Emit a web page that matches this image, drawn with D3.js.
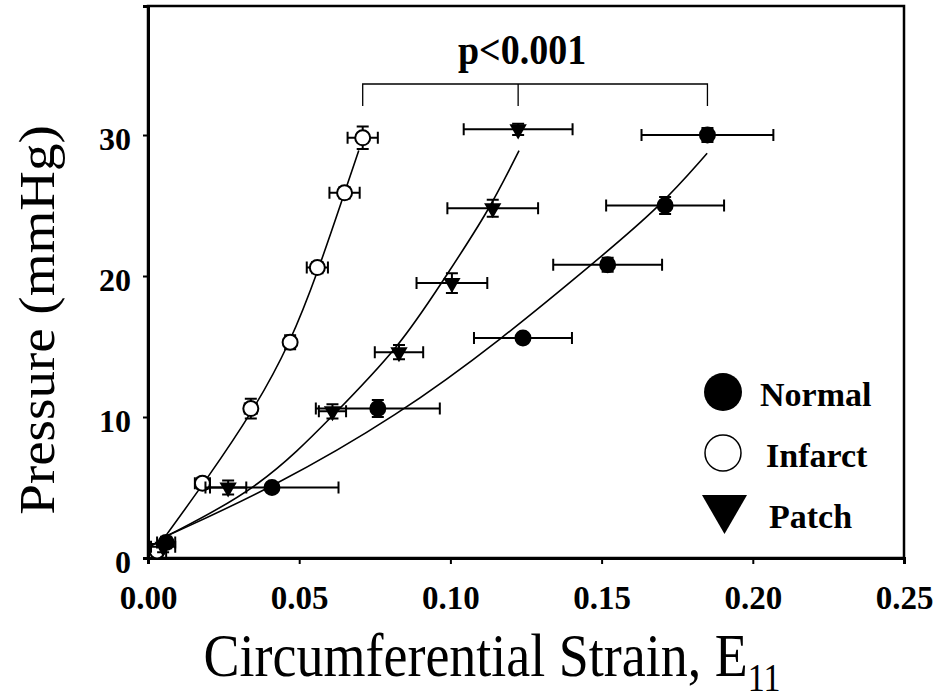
<!DOCTYPE html>
<html>
<head>
<meta charset="utf-8">
<script src="https://cdn.jsdelivr.net/npm/d3@7"></script>
<style>
    body { margin: 0; background: #fff; }
    svg { display: block; }
    .serif { font-family: "Liberation Serif", "Times New Roman", serif; }
</style>
</head>
<body>
<div id="chart"></div>
<script>
// Tick values
const xTicks = [0, 0.05, 0.10, 0.15, 0.20, 0.25];
const yTicks = [0, 10, 20, 30];

// Normal (filled circles)
const normalStrain = [0.006, 0.041, 0.076, 0.124, 0.152, 0.171, 0.185];
const normalPressure = [1.1, 5.0, 10.6, 15.6, 20.8, 25.0, 30.0];
const normalStrainErr = [0.003, 0.022, 0.0205, 0.0162, 0.018, 0.0195, 0.0218];
const normalPressureErr = [0.4, 0.3, 0.6, 0.3, 0.5, 0.6, 0.5];

// Infarct (open circles)
const infarctStrain = [0.003, 0.018, 0.034, 0.047, 0.056, 0.065, 0.071];
const infarctPressure = [0.5, 5.3, 10.6, 15.3, 20.6, 25.9, 29.8];
const infarctStrainErr = [0.003, 0.0025, 0.002, 0.0015, 0.0035, 0.005, 0.005];
const infarctPressureErr = [0.5, 0.4, 0.7, 0.5, 0.4, 0.4, 0.8];

// Patch (down triangles)
const patchStrain = [0.005, 0.0265, 0.061, 0.083, 0.1005, 0.114, 0.1224];
const patchPressure = [0.8, 5.0, 10.4, 14.6, 19.5, 24.8, 30.4];
const patchStrainErr = [0.004, 0.006, 0.0045, 0.008, 0.0117, 0.015, 0.018];
const patchPressureErr = [0.4, 0.5, 0.5, 0.5, 0.7, 0.6, 0.4];

// Fitted curves
const infarctFitStrain = [0.0056, 0.0195, 0.035, 0.047, 0.0565, 0.0645, 0.0697];
const infarctFitPressure = [1.5, 5.6, 10.5, 15.2, 20.5, 25.6, 28.9];
const patchFitStrain = [0.0056, 0.0375, 0.0612, 0.0833, 0.0976, 0.1124, 0.1227];
const patchFitPressure = [1.5, 5.0, 10.1, 15.0, 19.7, 24.5, 28.9];
const normalFitStrain = [0.0056, 0.0413, 0.0827, 0.1174, 0.1472, 0.1693, 0.1849];
const normalFitPressure = [1.5, 5.0, 10.1, 15.6, 20.9, 24.9, 28.7];

const legendLabels = ['Normal', 'Infarct', 'Patch'];
const pLabel = 'p<0.001';

const width = 940, height = 700;
const plot = { left: 148, right: 904, top: 6, bottom: 558 };

const svg = d3.select('#chart')
    .append('svg')
    .attr('width', width)
    .attr('height', height);

const x = d3.scaleLinear().domain([0, 0.25]).range([plot.left, plot.right]);
const y = d3.scaleLinear().domain([0, 39.15]).range([plot.bottom, plot.top]);

// Box around plot
svg.append('rect')
    .attr('x', plot.left)
    .attr('y', plot.top)
    .attr('width', plot.right - plot.left)
    .attr('height', plot.bottom - plot.top)
    .attr('fill', 'none')
    .attr('stroke', '#000')
    .attr('stroke-width', 2.5);

// Axes
const xAxis = svg.append('g')
    .attr('transform', `translate(0,${plot.bottom})`)
    .call(d3.axisBottom(x).tickValues(xTicks).tickFormat(d3.format('.2f')).tickSize(6).tickPadding(22));
const yAxis = svg.append('g')
    .attr('transform', `translate(${plot.left},0)`)
    .call(d3.axisLeft(y).tickValues(yTicks).tickSize(5).tickPadding(12));

[xAxis, yAxis].forEach(g => {
    g.select('.domain').attr('stroke-width', 3);
    g.selectAll('.tick line').attr('stroke-width', 2);
    g.selectAll('.tick text')
        .attr('class', 'serif')
        .style('font-weight', 'bold')
        .attr('fill', '#000');
});
xAxis.selectAll('.tick text').style('font-size', '33px');
yAxis.selectAll('.tick text').style('font-size', '32px').attr('dy', '0.45em');

// Axis titles
svg.append('text')
    .attr('class', 'serif')
    .attr('transform', 'translate(54,320) rotate(-90) scale(1,0.92)')
    .attr('text-anchor', 'middle')
    .style('font-size', '55px')
    .text('Pressure (mmHg)');

const xTitle = svg.append('text')
    .attr('class', 'serif')
    .attr('transform', 'translate(492,676) scale(1,1.15)')
    .attr('text-anchor', 'middle')
    .style('font-size', '54px');
xTitle.append('tspan').text('Circumferential Strain, E');
xTitle.append('tspan')
    .attr('dy', 13)
    .style('font-size', '34px')
    .text('11');

// Fitted curves
const line = d3.line()
    .x(d => x(d[0]))
    .y(d => y(d[1]))
    .curve(d3.curveBasis);

[[infarctFitStrain, infarctFitPressure], [patchFitStrain, patchFitPressure], [normalFitStrain, normalFitPressure]]
    .forEach(([sx, sy]) => {
        svg.append('path')
            .datum(sx.map((v, i) => [v, sy[i]]))
            .attr('d', line)
            .attr('fill', 'none')
            .attr('stroke', '#000')
            .attr('stroke-width', 1.6);
    });

// Error bars + markers
const series = [
    { name: 'Infarct', sx: infarctStrain, sy: infarctPressure, ex: infarctStrainErr, ey: infarctPressureErr, type: 'open' },
    { name: 'Patch', sx: patchStrain, sy: patchPressure, ex: patchStrainErr, ey: patchPressureErr, type: 'tri' },
    { name: 'Normal', sx: normalStrain, sy: normalPressure, ex: normalStrainErr, ey: normalPressureErr, type: 'fill' }
];

const cap = 6;
series.forEach(s => {
    const g = svg.append('g');
    const pts = s.sx.map((v, i) => ({ x: v, y: s.sy[i], ex: s.ex[i], ey: s.ey[i] }));

    pts.forEach(d => {
        const cx = x(d.x), cy = y(d.y);
        const x0 = x(d.x - d.ex), x1 = x(d.x + d.ex);
        const y0 = y(d.y - d.ey), y1 = y(d.y + d.ey);
        g.append('path')
            .attr('d', `M${x0},${cy}H${x1}M${x0},${cy - cap}V${cy + cap}M${x1},${cy - cap}V${cy + cap}` +
                       `M${cx},${y0}V${y1}M${cx - cap},${y0}H${cx + cap}M${cx - cap},${y1}H${cx + cap}`)
            .attr('stroke', '#000')
            .attr('stroke-width', 2)
            .attr('fill', 'none');
    });

    if (s.type === 'tri') {
        g.selectAll('path.m')
            .data(pts)
            .enter()
            .append('path')
            .attr('class', 'm')
            .attr('d', d3.symbol().type(d3.symbolTriangle).size(130))
            .attr('transform', d => `translate(${x(d.x)},${y(d.y)}) rotate(180)`)
            .attr('fill', '#000');
    } else {
        g.selectAll('circle')
            .data(pts)
            .enter()
            .append('circle')
            .attr('cx', d => x(d.x))
            .attr('cy', d => y(d.y))
            .attr('r', 7.5)
            .attr('fill', s.type === 'fill' ? '#000' : '#fff')
            .attr('stroke', '#000')
            .attr('stroke-width', 2);
    }
});

// Significance bracket over the top points
const tops = [infarctStrain, patchStrain, normalStrain].map(a => x(a[a.length - 1]));
const bracketY = 84, bracketDrop = 22;
svg.append('path')
    .attr('d', `M${tops[0]},${bracketY + bracketDrop}V${bracketY}H${tops[2]}V${bracketY + bracketDrop}` +
               `M${tops[1]},${bracketY}V${bracketY + bracketDrop}`)
    .attr('fill', 'none')
    .attr('stroke', '#000')
    .attr('stroke-width', 1.3);

svg.append('text')
    .attr('class', 'serif')
    .attr('transform', 'translate(522,64) scale(1,1.1)')
    .attr('text-anchor', 'middle')
    .style('font-size', '38px')
    .style('font-weight', 'bold')
    .text(pLabel);

// Legend
const legendY = [392, 453, 514];
const legend = svg.append('g');
legendLabels.forEach((label, i) => {
    const cy = legendY[i];
    if (i === 0) {
        legend.append('circle').attr('cx', 723).attr('cy', cy).attr('r', 19).attr('fill', '#000');
    } else if (i === 1) {
        legend.append('circle').attr('cx', 723).attr('cy', cy).attr('r', 18)
            .attr('fill', '#fff').attr('stroke', '#000').attr('stroke-width', 1.5);
    } else {
        legend.append('path')
            .attr('d', d3.symbol().type(d3.symbolTriangle).size(880))
            .attr('transform', `translate(724.5,${cy - 6}) rotate(180)`)
            .attr('fill', '#000');
    }
    legend.append('text')
        .attr('class', 'serif')
        .attr('x', i === 2 ? 769 : (i === 1 ? 766 : 760))
        .attr('y', cy + 14)
        .style('font-size', '34px')
        .style('font-weight', 'bold')
        .text(label);
});
</script>
</body>
</html>
